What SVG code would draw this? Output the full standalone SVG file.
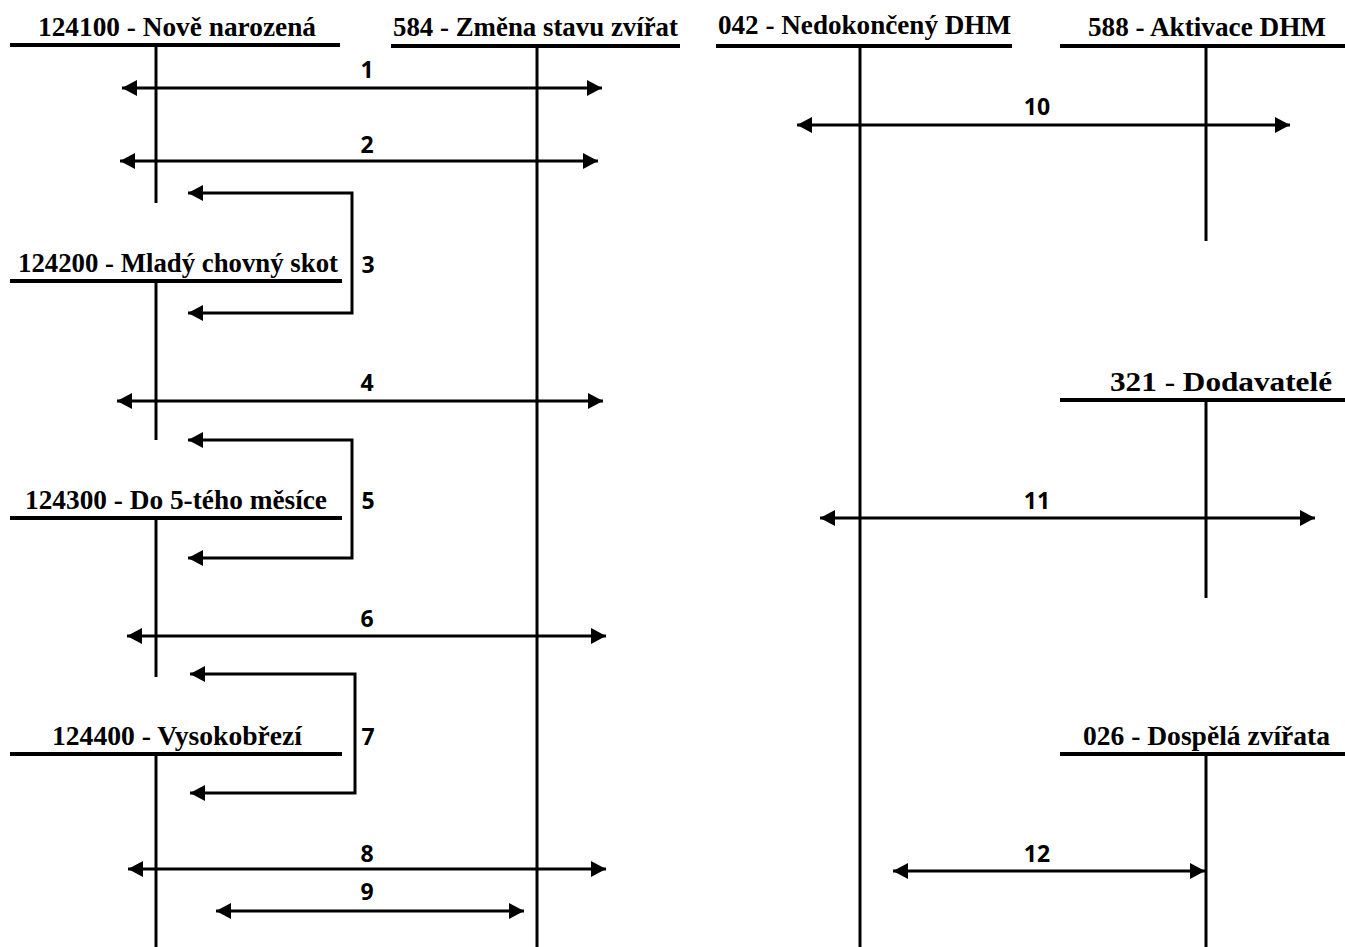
<svg xmlns="http://www.w3.org/2000/svg" width="1345" height="947" viewBox="0 0 1345 947">
<style>
.hd{font-family:"Liberation Serif","Times New Roman",serif;font-weight:bold;font-size:28px;fill:#000}
.num{font-family:"Open Sans","Noto Sans",sans-serif;font-weight:bold;font-size:23px;fill:#000;text-anchor:middle}
.hl{stroke:#000;stroke-width:4;fill:none}
.vl{stroke:#000;stroke-width:3;fill:none}
.ar{stroke:#000;stroke-width:3;fill:none;marker-start:url(#ah);marker-end:url(#ah)}
</style>
<defs>
<marker id="ah" markerUnits="userSpaceOnUse" markerWidth="16" markerHeight="16" refX="15" refY="8" orient="auto-start-reverse" viewBox="0 0 16 16">
<path d="M0,0 L15,8 L0,16 z" fill="#000"/>
</marker>
</defs>
<rect width="1345" height="947" fill="#fff"/>
<g id="acc-124100"><line class="hl" x1="10" y1="45" x2="340" y2="45"/><line class="vl" x1="156" y1="45" x2="156" y2="203"/><text class="hd" x="38" y="36" textLength="278" lengthAdjust="spacingAndGlyphs">124100 - Nově narozená</text></g>
<g id="acc-584"><line class="hl" x1="391" y1="46" x2="680" y2="46"/><line class="vl" x1="537" y1="46" x2="537" y2="947"/><text class="hd" x="393" y="36" textLength="285" lengthAdjust="spacingAndGlyphs">584 - Změna stavu zvířat</text></g>
<g id="acc-042"><line class="hl" x1="716" y1="46" x2="1012" y2="46"/><line class="vl" x1="860" y1="46" x2="860" y2="947"/><text class="hd" x="718" y="34" textLength="293" lengthAdjust="spacingAndGlyphs">042 - Nedokončený DHM</text></g>
<g id="acc-588"><line class="hl" x1="1060" y1="46" x2="1345" y2="46"/><line class="vl" x1="1206" y1="46" x2="1206" y2="241"/><text class="hd" x="1088" y="36" textLength="238" lengthAdjust="spacingAndGlyphs">588 - Aktivace DHM</text></g>
<g id="acc-124200"><line class="hl" x1="10" y1="281" x2="342" y2="281"/><line class="vl" x1="156" y1="281" x2="156" y2="440"/><text class="hd" x="18" y="272" textLength="320" lengthAdjust="spacingAndGlyphs">124200 - Mladý chovný skot</text></g>
<g id="acc-124300"><line class="hl" x1="10" y1="518" x2="342" y2="518"/><line class="vl" x1="156" y1="518" x2="156" y2="677"/><text class="hd" x="25" y="509" textLength="302" lengthAdjust="spacingAndGlyphs">124300 - Do 5-tého měsíce</text></g>
<g id="acc-124400"><line class="hl" x1="10" y1="754" x2="342" y2="754"/><line class="vl" x1="156" y1="754" x2="156" y2="947"/><text class="hd" x="52" y="745" textLength="250" lengthAdjust="spacingAndGlyphs">124400 - Vysokobřezí</text></g>
<g id="acc-321"><line class="hl" x1="1060" y1="400" x2="1345" y2="400"/><line class="vl" x1="1206" y1="400" x2="1206" y2="598"/><text class="hd" x="1110" y="391" textLength="222" lengthAdjust="spacingAndGlyphs">321 - Dodavatelé</text></g>
<g id="acc-026"><line class="hl" x1="1060" y1="754" x2="1345" y2="754"/><line class="vl" x1="1206" y1="754" x2="1206" y2="947"/><text class="hd" x="1083" y="745" textLength="247" lengthAdjust="spacingAndGlyphs">026 - Dospělá zvířata</text></g>
<g id="connectors">
<line class="ar" x1="122" y1="88" x2="602" y2="88"/>
<line class="ar" x1="120" y1="161" x2="598" y2="161"/>
<path class="ar" d="M188,193 H352 V313 H188"/>
<line class="ar" x1="117" y1="401" x2="603" y2="401"/>
<path class="ar" d="M188,440 H352 V558 H188"/>
<line class="ar" x1="127" y1="636" x2="606" y2="636"/>
<path class="ar" d="M190,674 H355 V793 H190"/>
<line class="ar" x1="128" y1="869" x2="606" y2="869"/>
<line class="ar" x1="216" y1="911" x2="524" y2="911"/>
<line class="ar" x1="797" y1="125" x2="1290" y2="125"/>
<line class="ar" x1="820" y1="518" x2="1315" y2="518"/>
<line class="ar" x1="893" y1="871" x2="1205" y2="871"/>
</g>
<g id="labels">
<text class="num" x="367" y="78">1</text>
<text class="num" x="367" y="153">2</text>
<text class="num" x="368" y="273">3</text>
<text class="num" x="367" y="391">4</text>
<text class="num" x="368" y="509">5</text>
<text class="num" x="367" y="627">6</text>
<text class="num" x="368" y="745">7</text>
<text class="num" x="367" y="862">8</text>
<text class="num" x="367" y="900">9</text>
<text class="num" x="1037" y="115">10</text>
<text class="num" x="1037" y="509">11</text>
<text class="num" x="1037" y="862">12</text>
</g>
</svg>
